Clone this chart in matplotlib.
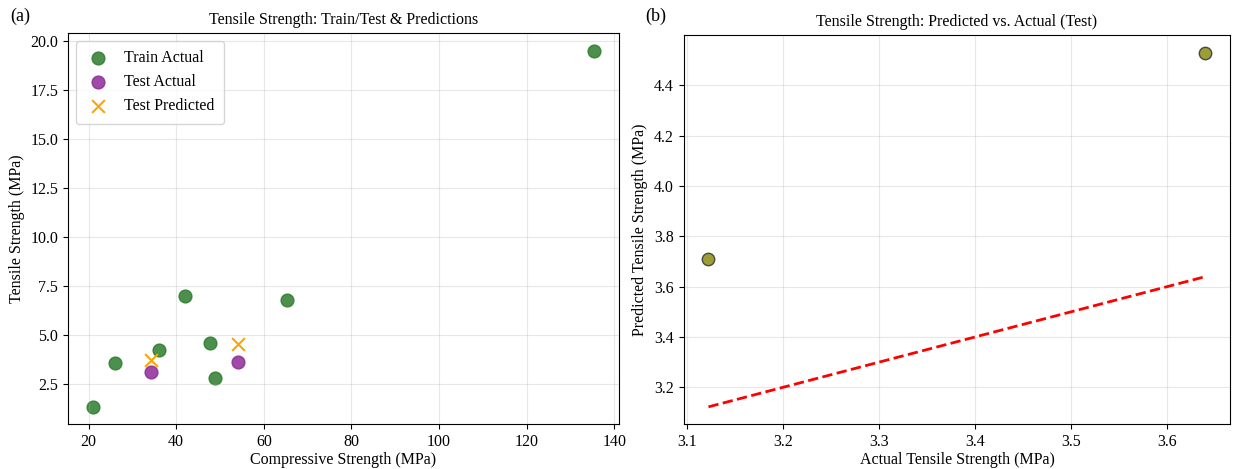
import numpy as np
import matplotlib.pyplot as plt

plt.rcParams['font.family'] = ['Liberation Serif', 'DejaVu Serif']

# training data
train_comp = [21.0, 26.0, 36.0, 42.0, 47.8, 48.9, 65.3, 135.3]
train_tens = [1.35, 3.58, 4.25, 6.98, 4.60, 2.82, 6.78, 19.5]

# test data
test_comp = [34.3, 54.0]
test_actual = [3.122, 3.64]
test_pred = [3.71, 4.53]

fig = plt.figure(figsize=(12.34, 4.69), dpi=100)
ax1 = fig.add_axes([0.055, 0.095, 0.4465, 0.835])
ax2 = fig.add_axes([0.554, 0.095, 0.443, 0.831])

fs = 11.5
ax1.scatter(train_comp, train_tens, color='#2e7d2e', alpha=0.85, s=85, label='Train Actual')
ax1.scatter(test_comp, test_actual, color='#8e2a98', alpha=0.85, s=85, label='Test Actual')
ax1.scatter(test_comp, test_pred, color='orange', marker='x', s=85, label='Test Predicted')
ax1.set_xlabel('Compressive Strength (MPa)', fontsize=fs, labelpad=1.5)
ax1.set_ylabel('Tensile Strength (MPa)', fontsize=fs)
ax1.set_title('Tensile Strength: Train/Test & Predictions', fontsize=fs)
ax1.set_yticks([2.5, 5.0, 7.5, 10.0, 12.5, 15.0, 17.5, 20.0])
ax1.legend(loc='upper left', fontsize=fs, borderpad=0.6, handlelength=1.6)
ax1.grid(True, alpha=0.3)
ax1.tick_params(labelsize=fs)

ax2.scatter(test_actual, test_pred, color='#8c8c14', alpha=0.85, edgecolors='#333333',
            linewidths=1, s=80)
lo, hi = min(test_actual), max(test_actual)
ax2.plot([lo, hi], [lo, hi], 'r--', lw=2)
ax2.set_xlabel('Actual Tensile Strength (MPa)', fontsize=fs, labelpad=1.5)
ax2.set_ylabel('Predicted Tensile Strength (MPa)', fontsize=fs)
ax2.set_title('Tensile Strength: Predicted vs. Actual (Test)', fontsize=fs)
ax2.set_yticks([3.2, 3.4, 3.6, 3.8, 4.0, 4.2, 4.4])
ax2.set_ylim(3.052, 4.602)
ax2.grid(True, alpha=0.3)
ax2.tick_params(labelsize=fs)

fig.text(0.008, 0.955, '(a)', fontsize=13)
fig.text(0.523, 0.955, '(b)', fontsize=13)

fig.savefig('out.png', dpi=100)
